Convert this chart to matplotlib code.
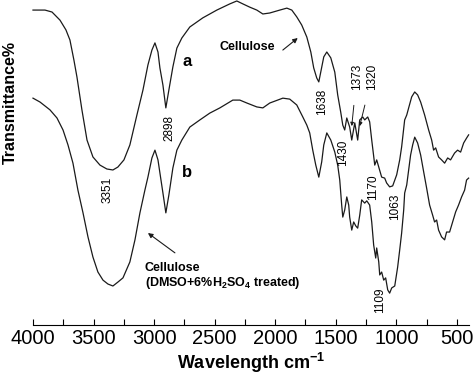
import matplotlib
matplotlib.use("Agg")
import matplotlib.pyplot as plt
from matplotlib.ticker import MultipleLocator

plt.rcParams["font.family"] = ["Liberation Sans", "DejaVu Sans"]
plt.rcParams["mathtext.fontset"] = "custom"
plt.rcParams["mathtext.rm"] = "Liberation Sans"
plt.rcParams["mathtext.bf"] = "Liberation Sans:bold"

# curve a: untreated cellulose (wavenumber, transmittance in arbitrary %)
wn_a = [4000, 3901, 3843, 3777, 3728, 3695, 3662, 3637, 3596, 3554, 3505, 3447,
        3390, 3340, 3299, 3249, 3200, 3142, 3092, 3051, 3018, 2993, 2968, 2952,
        2927, 2903, 2878, 2845, 2812, 2771, 2705, 2598, 2482, 2375, 2317, 2267,
        2210, 2152, 2102, 2045, 1962, 1904, 1863, 1822, 1781, 1739, 1706, 1682,
        1657, 1640, 1624, 1599, 1574, 1541, 1508, 1484, 1459, 1442, 1426, 1409,
        1385, 1368, 1343, 1319, 1302, 1277, 1261, 1236, 1220, 1203, 1178, 1162,
        1145, 1121, 1096, 1080, 1055, 1030, 997, 972, 956, 931, 914, 898, 873,
        848, 824, 799, 766, 733, 708, 692, 675, 651, 626, 601, 576, 552, 519,
        494, 469, 444, 420, 403]
t_a = [96.9, 96.9, 96.3, 93.8, 90.8, 87.7, 81.5, 76.3, 66.2, 56.9, 51.7, 49.2,
       48.0, 47.7, 48.6, 50.8, 55.4, 64.6, 72.3, 80.0, 84.6, 86.8, 84.0, 79.1,
       73.8, 66.8, 72.3, 79.4, 85.2, 88.3, 91.7, 94.5, 96.9, 98.8, 99.7, 98.8,
       97.8, 96.9, 95.7, 96.0, 96.9, 97.5, 96.9, 94.8, 92.3, 88.6, 84.0, 79.1,
       76.0, 74.8, 77.8, 82.5, 84.0, 82.2, 77.8, 70.8, 65.5, 61.5, 60.0, 63.7,
       60.9, 56.9, 62.2, 56.9, 63.1, 64.0, 63.1, 64.0, 62.5, 56.9, 49.2, 50.8,
       48.6, 45.5, 45.2, 43.7, 42.5, 42.8, 46.2, 50.8, 54.8, 63.1, 64.6, 66.8,
       70.2, 71.7, 70.8, 68.6, 64.6, 60.0, 56.9, 53.8, 54.5, 51.7, 50.8, 49.8,
       51.4, 50.8, 52.9, 53.8, 53.2, 56.0, 57.5, 58.5]

# curve b: cellulose after DMSO + 6% H2SO4 treatment
wn_b = [4000, 3942, 3860, 3802, 3752, 3711, 3670, 3629, 3587, 3546, 3505, 3464,
        3422, 3381, 3340, 3299, 3257, 3200, 3158, 3117, 3076, 3051, 3018, 2993,
        2968, 2952, 2927, 2903, 2878, 2845, 2812, 2771, 2705, 2622, 2540, 2457,
        2350, 2292, 2234, 2152, 2102, 2045, 1937, 1880, 1822, 1772, 1739, 1715,
        1690, 1665, 1640, 1616, 1599, 1574, 1541, 1508, 1484, 1467, 1451, 1442,
        1426, 1409, 1393, 1385, 1368, 1352, 1335, 1319, 1302, 1286, 1261, 1244,
        1220, 1203, 1187, 1170, 1162, 1145, 1137, 1121, 1104, 1088, 1071, 1055,
        1038, 1013, 989, 972, 956, 939, 931, 914, 898, 882, 865, 848, 824, 799,
        774, 750, 725, 700, 684, 667, 651, 626, 601, 585, 560, 535, 510, 486,
        461, 436, 420, 403]
t_b = [69.8, 68.6, 66.2, 63.7, 60.0, 55.4, 49.8, 41.5, 34.5, 27.1, 20.9, 16.3,
       13.8, 12.6, 12.0, 13.2, 14.5, 19.4, 26.2, 34.5, 41.5, 45.5, 51.4, 53.8,
       50.8, 46.8, 40.6, 34.5, 40.0, 48.3, 53.8, 56.9, 60.9, 63.1, 65.2, 66.8,
       69.2, 69.2, 68.3, 67.1, 66.8, 68.3, 69.8, 69.5, 67.7, 64.0, 61.5, 59.1,
       53.8, 49.2, 45.5, 50.2, 55.4, 59.1, 56.9, 53.2, 49.2, 44.6, 36.9, 33.2,
       35.4, 39.4, 36.9, 33.2, 29.2, 31.7, 30.5, 29.8, 33.8, 38.5, 37.5, 38.2,
       36.9, 31.7, 24.6, 20.6, 23.7, 19.4, 15.4, 16.3, 13.8, 14.5, 10.8, 9.8,
       11.4, 12.0, 17.8, 23.1, 28.3, 35.4, 40.6, 43.1, 47.7, 52.3, 55.4, 57.8,
       56.0, 52.3, 47.1, 42.2, 36.9, 33.8, 31.7, 32.3, 29.2, 27.1, 26.2, 28.6,
       28.6, 31.7, 34.8, 36.9, 39.4, 41.5, 44.6, 45.2]

# peak labels: text, wavenumber, transmittance
peak_text = ["3351", "2898", "1638", "1430", "1170", "1063", "1109"]
peak_wn = [3381, 2870, 1616, 1442, 1195, 1013, 1137]
peak_t = [41.5, 60.6, 68.6, 52.9, 42.5, 36.3, 7.7]

fig = plt.figure(figsize=(4.74, 3.79), dpi=100)
ax = fig.add_axes([0.0696, 0.1425, 0.9198, 0.8575])

line_color = "#1a1a1a"
ax.plot(wn_a, t_a, color=line_color, lw=0.9, clip_on=False)
ax.plot(wn_b, t_b, color=line_color, lw=0.9, clip_on=False)

for txt, x, y in zip(peak_text, peak_wn, peak_t):
    ax.text(x, y, txt, rotation=90, ha="center", va="center", fontsize=8.5)

# 1373 / 1320 labels with small arrows
ax.annotate("1373", xy=(1368, 61.2), xytext=(1327, 76.3), rotation=90,
            ha="center", va="center", fontsize=8.5,
            arrowprops=dict(arrowstyle="-|>", lw=0.7, color=line_color,
                            mutation_scale=5, shrinkA=9, shrinkB=0))
ax.annotate("1320", xy=(1302, 61.2), xytext=(1203, 76.3), rotation=90,
            ha="center", va="center", fontsize=8.5,
            arrowprops=dict(arrowstyle="-|>", lw=0.7, color=line_color,
                            mutation_scale=5, shrinkA=9, shrinkB=0))

ax.text(2730, 81.2, "a", fontsize=12, fontweight="bold", ha="center", va="center")
ax.text(2730, 46.8, "b", fontsize=12, fontweight="bold", ha="center", va="center")

ax.text(2234, 85.5, "Cellulose", fontsize=9, fontweight="bold",
        ha="center", va="center")
ax.annotate("", xy=(1814, 88.3), xytext=(1937, 84.6),
            arrowprops=dict(arrowstyle="-|>", lw=0.8, color=line_color,
                            mutation_scale=7, shrinkA=0, shrinkB=0))

ax.text(3076, 15.0,
        "Cellulose\n(DMSO+6%H$_\\mathbf{2}$SO$_\\mathbf{4}$ treated)",
        fontsize=9, fontweight="bold", ha="left", va="center", linespacing=1.1)
ax.annotate("", xy=(3051, 28.3), xytext=(2828, 22.2),
            arrowprops=dict(arrowstyle="-|>", lw=0.8, color=line_color,
                            mutation_scale=7, shrinkA=0, shrinkB=0))

ax.set_xlim(4000, 400)
ax.set_ylim(0, 100)
ax.xaxis.set_major_locator(MultipleLocator(500))
ax.xaxis.set_minor_locator(MultipleLocator(250))
ax.tick_params(axis="x", which="both", direction="in", length=4, width=0.8,
               labelsize=14.5, pad=3)
ax.set_yticks([])
for side in ["left", "right", "top"]:
    ax.spines[side].set_visible(False)
ax.spines["bottom"].set_linewidth(0.8)

ax.set_xlabel("Wavelength cm$^{\\mathbf{-1}}$", fontsize=13, fontweight="bold",
              labelpad=2)
fig.text(0.021, 0.73, "Transmittance%", rotation=90, fontsize=11.5,
         fontweight="bold", ha="center", va="center")

fig.savefig("out.png", dpi=100)
